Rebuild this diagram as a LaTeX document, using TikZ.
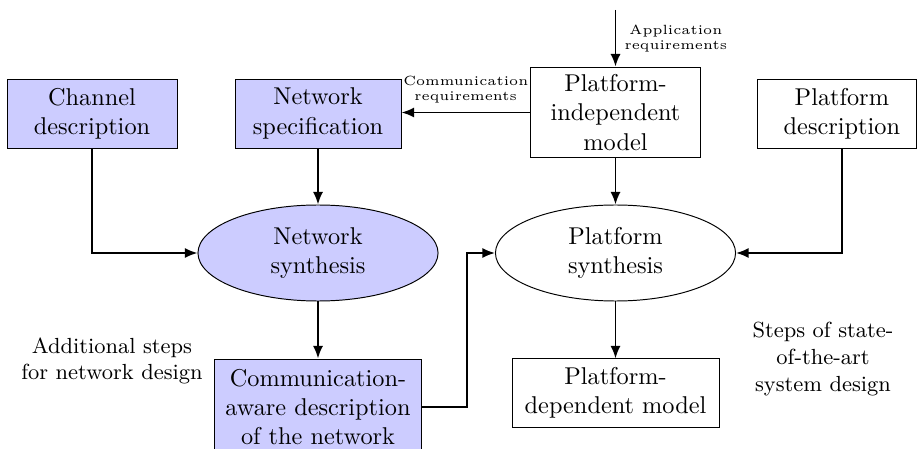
\documentclass[tikz,border=0pt]{standalone}
\usetikzlibrary{shapes.geometric,arrows.meta}
\begin{document}
\begin{tikzpicture}[x=0.4115pt, y=-0.4115pt,
  box/.style={draw, rectangle, align=center, inner sep=2pt},
  netbox/.style={box, fill=blue!20},
  synth/.style={draw, ellipse, align=center, inner sep=1pt,
                minimum width=98.8pt, minimum height=39.5pt},
  flow/.style={thick, -{Latex[length=5.2pt,width=4.2pt]}},
  note/.style={font=\fontsize{5.49}{6.2}\selectfont, align=center},
  side/.style={font=\small, align=center}]
\useasboundingbox (0,0) rectangle (917,449);

% input descriptions
\node[netbox, minimum width=69.96pt, minimum height=28.4pt] (chan) at (92,113.5) {Channel\\description};
\node[netbox, minimum width=68.3pt, minimum height=28.4pt] (nspec) at (318,113.5) {Network\\specification};
\node[box, minimum width=69.96pt, minimum height=37.4pt] (pim) at (615.5,112.5) {Platform-\\independent\\model};
\node[box, minimum width=65.8pt, minimum height=28.4pt] (pdesc) at (837,113.5) {\hspace*{4pt}Platform\\\hspace*{4pt}description};

% synthesis steps
\node[synth, fill=blue!20] (nsyn) at (318,253) {Network\\synthesis};
\node[synth] (psyn) at (615.5,253) {Platform\\synthesis};

% results
\node[netbox, minimum width=85.2pt, minimum height=39.5pt] (comm) at (318,407) {Communication-\\aware description\\of the network};
\node[box, minimum width=85.2pt, minimum height=28pt] (pdm) at (615.5,393) {Platform-\\dependent model};

% side notes
\node[side] (addl) at (112,361) {Additional steps\\for network design};
\node[side] (soa) at (823,359) {Steps of state-\\of-the-art\\system design};

% free ends and bends
\coordinate (appin) at (615.5,10);
\coordinate (kink) at (467,407);

% connectors
\draw[flow] (appin) -- node[note, right] {Application\\requirements} (pim.north);
\draw[flow] (pim.west) -- node[note, above] {Communication\\requirements} (pim.west -| nspec.east);
\draw[flow] (nspec.south) -- (nsyn.north);
\draw[flow] (chan.south) |- (nsyn.west);
\draw[flow] (nsyn.south) -- (comm.north);
\draw[flow] (pim.south) -- (psyn.north);
\draw[flow] ([xshift=2pt]pdesc.south) |- (psyn.east);
\draw[flow] (psyn.south) -- (pdm.north);
\draw[flow] (comm.east) -- (kink) |- (psyn.west);
\end{tikzpicture}
\end{document}
